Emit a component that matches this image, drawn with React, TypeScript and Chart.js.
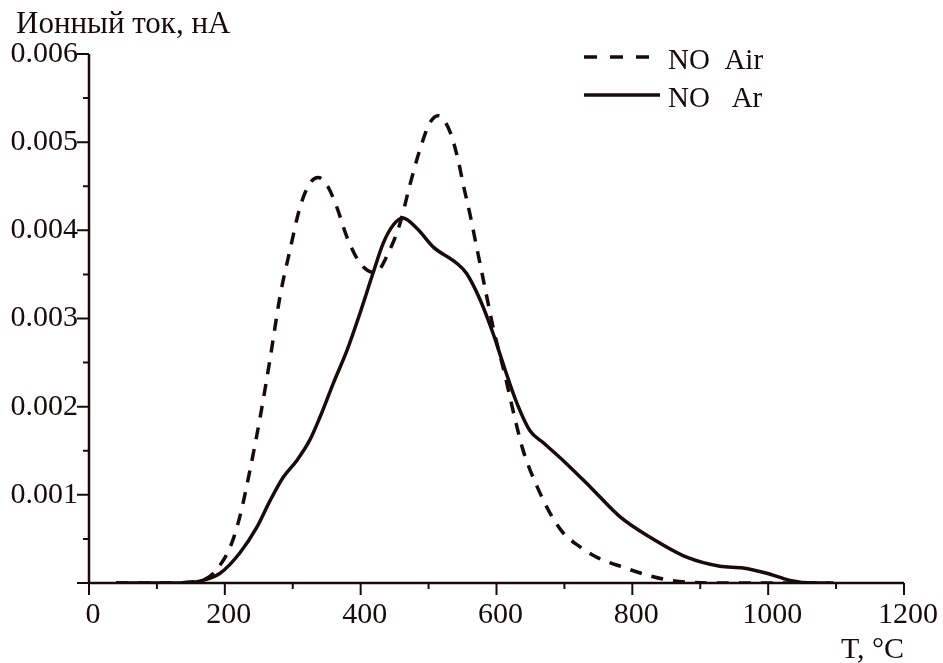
import React, { useEffect, useRef } from "react";
import { Chart, registerables } from "chart.js";

Chart.register(...registerables);

// NO in air (dashed)
const airT = [40, 100, 150, 170, 183, 208, 222, 237, 252, 267, 281, 296, 311, 325, 337, 350, 365, 380, 399, 421, 443, 458, 473, 487, 502, 514, 532, 544, 551, 561, 571, 579, 588, 595, 613, 623, 639, 660, 679, 698, 723, 748, 786, 822, 856, 919, 1000, 1090];
const airI = [0, 0, 0.00001, 0.00004, 0.00011, 0.00041, 0.00075, 0.00128, 0.00188, 0.00256, 0.00324, 0.00378, 0.00427, 0.00453, 0.0046, 0.00452, 0.00426, 0.00392, 0.00363, 0.00352, 0.00378, 0.00408, 0.00453, 0.00491, 0.00522, 0.0053, 0.00511, 0.00478, 0.00452, 0.00418, 0.0038, 0.0035, 0.00316, 0.0029, 0.00234, 0.002, 0.00151, 0.00109, 0.00079, 0.00057, 0.00041, 0.00029, 0.00018, 0.00009, 0.00003, 0, 0, 0];

// NO in argon (solid)
const arT = [40, 100, 134, 163, 193, 222, 247, 267, 286, 306, 325, 340, 360, 380, 399, 418, 433, 448, 462, 483, 507, 541, 556, 576, 595, 613, 630, 649, 669, 698, 738, 782, 826, 881, 929, 963, 998, 1032, 1066, 1096];
const arI = [0, 0, 0, 0.00002, 0.00011, 0.00034, 0.00063, 0.00094, 0.0012, 0.00139, 0.00162, 0.00188, 0.00227, 0.00264, 0.00306, 0.00351, 0.00385, 0.00406, 0.00414, 0.00402, 0.00381, 0.00363, 0.00351, 0.00321, 0.00283, 0.00241, 0.00204, 0.00173, 0.00159, 0.00139, 0.00109, 0.00075, 0.00052, 0.00029, 0.00019, 0.00017, 0.00011, 0.00003, 0, 0];

const seriesLabels = ["NO  Air", "NO   Ar"];
const yTitle = "Ионный ток, нА";
const xTitle = "T, °C";

const xMin = 0;
const xMax = 1200;
const xMajorStep = 200;
const xMinorStep = 100;
const yMin = 0;
const yMax = 0.006;
const yMajorStep = 0.001;
const yMinorStep = 0.0005;

const INK = "#1a0b0b";
const FONT = '"Liberation Serif", "Times New Roman", serif';

const decorPlugin = {
  id: "decor",
  afterDraw(chart: any) {
    const ctx = chart.ctx as CanvasRenderingContext2D;
    const xs = chart.scales.x;
    const ys = chart.scales.y;
    const x0 = xs.getPixelForValue(xMin);
    const x1 = xs.getPixelForValue(xMax);
    const y0 = ys.getPixelForValue(yMin);
    const y1 = ys.getPixelForValue(yMax);
    ctx.save();
    ctx.strokeStyle = INK;
    ctx.lineCap = "butt";
    // axis lines
    ctx.lineWidth = 2.5;
    ctx.beginPath();
    ctx.moveTo(x0, y1);
    ctx.lineTo(x0, y0);
    ctx.moveTo(x0, y0);
    ctx.lineTo(x1, y0);
    ctx.stroke();
    // ticks
    ctx.lineWidth = 2;
    ctx.beginPath();
    const nx = Math.round((xMax - xMin) / xMinorStep);
    for (let i = 0; i <= nx; i++) {
      const v = xMin + i * xMinorStep;
      const px = xs.getPixelForValue(v);
      const major = Math.abs(v / xMajorStep - Math.round(v / xMajorStep)) < 1e-6;
      ctx.moveTo(px, y0);
      ctx.lineTo(px, y0 + (major ? 12 : 6));
    }
    const ny = Math.round((yMax - yMin) / yMinorStep);
    for (let i = 0; i <= ny; i++) {
      const v = yMin + i * yMinorStep;
      const py = ys.getPixelForValue(v);
      const major = i % 2 === 0;
      ctx.moveTo(x0, py);
      ctx.lineTo(x0 - (major ? 12 : 6), py);
    }
    ctx.stroke();

    // titles
    ctx.fillStyle = INK;
    ctx.font = `31px ${FONT}`;
    ctx.textAlign = "left";
    ctx.textBaseline = "alphabetic";
    ctx.fillText(yTitle, 16, 33);
    ctx.font = `30px ${FONT}`;
    ctx.textAlign = "right";
    ctx.fillText(xTitle, x1, 658);

    // legend
    const rows = [
      { lineY: 57, base: 69 },
      { lineY: 95, base: 107 },
    ];
    chart.data.datasets.forEach((ds: any, i: number) => {
      const r = rows[i];
      ctx.lineWidth = ds.borderWidth;
      ctx.strokeStyle = ds.borderColor;
      ctx.setLineDash(ds.borderDash && ds.borderDash.length ? [13, 13] : []);
      ctx.beginPath();
      ctx.moveTo(584, r.lineY);
      ctx.lineTo(660, r.lineY);
      ctx.stroke();
      ctx.setLineDash([]);
      ctx.font = `29px ${FONT}`;
      ctx.textAlign = "left";
      ctx.fillStyle = INK;
      ctx.fillText(ds.label, 668, r.base);
    });
    ctx.restore();
  },
};

export default function App() {
  const ref = useRef<HTMLCanvasElement>(null);
  useEffect(() => {
    if (!ref.current) return;
    const chart = new Chart(ref.current, {
      type: "line",
      data: {
        datasets: [
          {
            label: seriesLabels[0],
            data: airT.map((t, i) => ({ x: t, y: airI[i] })),
            borderColor: INK,
            borderWidth: 3.5,
            borderDash: [12, 10],
            pointRadius: 0,
            cubicInterpolationMode: "monotone",
            fill: false,
          },
          {
            label: seriesLabels[1],
            data: arT.map((t, i) => ({ x: t, y: arI[i] })),
            borderColor: INK,
            borderWidth: 3.5,
            pointRadius: 0,
            cubicInterpolationMode: "monotone",
            fill: false,
          },
        ],
      },
      options: {
        responsive: false,
        animation: false,
        events: [],
        layout: { padding: { top: 54, right: 39, left: 0, bottom: 0 } },
        scales: {
          x: {
            type: "linear",
            min: xMin,
            max: xMax,
            grid: { display: false, drawTicks: false },
            border: { display: false },
            ticks: {
              stepSize: xMajorStep,
              autoSkip: false,
              maxRotation: 0,
              padding: 14,
              labelOffset: 4,
              color: INK,
              font: { family: FONT, size: 30 },
              callback: (v: any) => String(Math.round(Number(v))),
            },
            afterFit: (s: any) => {
              s.height = 80;
              s.paddingLeft = 0;
              s.paddingRight = 0;
            },
          },
          y: {
            type: "linear",
            min: yMin,
            max: yMax,
            grid: { display: false, drawTicks: false },
            border: { display: false },
            ticks: {
              stepSize: yMajorStep,
              padding: 11,
              color: INK,
              font: { family: FONT, size: 30 },
              callback: (v: any) => (Number(v) === 0 ? "" : Number(v).toFixed(3)),
            },
            afterFit: (s: any) => {
              s.width = 89;
              s.paddingTop = 0;
              s.paddingBottom = 0;
            },
          },
        },
        plugins: {
          legend: { display: false },
          tooltip: { enabled: false },
          title: { display: false },
        },
      },
      plugins: [decorPlugin],
    } as any);
    return () => chart.destroy();
  }, []);
  return (
    <div style={{ position: "absolute", left: 0, top: 0, width: 943, height: 663, background: "#fff" }}>
      <canvas ref={ref} width={943} height={663} style={{ display: "block", width: 943, height: 663 }} />
    </div>
  );
}
